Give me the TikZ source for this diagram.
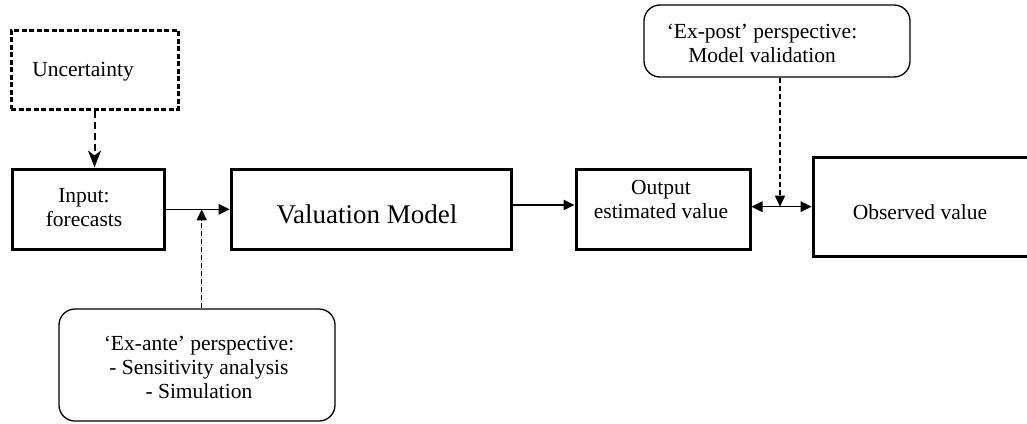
\documentclass[tikz,border=0pt]{standalone}
\usepackage{fontspec}
\setmainfont{LiberationSerif}[Extension=.ttf, UprightFont=*-Regular, BoldFont=*-Bold, ItalicFont=*-Italic]
\usetikzlibrary{arrows.meta}
\tikzset{
  txt/.style={align=center, inner sep=0pt, font=\fontsize{21.5}{24}\selectfont},
  bigtxt/.style={align=center, inner sep=0pt, font=\fontsize{27}{30}\selectfont},
  box/.style={draw, line width=3pt, inner sep=0pt},
  dashbox/.style={draw, line width=3pt, inner sep=0pt, dash pattern=on 5pt off 2.5pt},
  roundbox/.style={draw, line width=1.3pt, rounded corners=16pt, inner sep=0pt},
  conn/.style={line width=1.5pt, -{Triangle[length=11pt,width=10.5pt]}},
  dconn/.style={line width=1.5pt, {Triangle[length=11pt,width=10.5pt]}-{Triangle[length=11pt,width=10.5pt]}},
  dashconn/.style={line width=1.3pt, dash pattern=on 5pt off 3pt, -{Triangle[length=11pt,width=10pt]}},
  uncconn/.style={line width=2pt, dash pattern=on 7pt off 4pt, -{Stealth[length=17pt,width=13pt,inset=5pt]}}
}
\begin{document}
\begin{tikzpicture}[x=1pt,y=-1pt]
\useasboundingbox (0,0) rectangle (1027,423);
% boxes
\node[dashbox, minimum width=167pt, minimum height=79pt] (unc) at (94.5,69.5) {};
\node[box, minimum width=152pt, minimum height=80pt] (inp) at (88,209) {};
\node[box, minimum width=280pt, minimum height=80pt] (val) at (371,209) {};
\node[box, minimum width=174pt, minimum height=80pt] (out) at (663,209) {};
\node[box, minimum width=216pt, minimum height=99pt] (obs) at (921,206.5) {};
\node[roundbox, minimum width=276pt, minimum height=112pt] (exante) at (197,365) {};
\node[roundbox, minimum width=266pt, minimum height=72pt] (expost) at (777,41) {};
% texts
\node[txt] (unct) at (83,72) {Uncertainty};
\node[txt] (inpt) at (84,208) {Input:\\forecasts};
\node[bigtxt] (valt) at (367,214) {Valuation Model};
\node[txt] (outt) at (661,199) {Output\\estimated value};
\node[txt] (obst) at (920,212) {Observed value};
\node[txt] (exantet) at (199,367) {‘Ex-ante’ perspective:\\- Sensitivity analysis\\- Simulation};
\node[txt] (expostt) at (762,43) {‘Ex-post’ perspective:\\Model validation};
% helper coordinates
\coordinate (m1) at (201.7,209.3);
\coordinate (m2) at (780,206.7);
% connectors
\draw[uncconn] (unc.south) -- (unc.south |- inp.north);
\draw[conn] (inp.east |- m1) -- (val.west |- m1);
\draw[conn] ([yshift=4pt]val.east) -- ([yshift=4pt]out.west);
\draw[dconn] (out.east |- m2) -- (obs.west |- m2);
\draw[dashconn] (exante.north -| m1) -- (m1);
\draw[dashconn] (expost.south -| m2) -- (m2);
\end{tikzpicture}
\end{document}
